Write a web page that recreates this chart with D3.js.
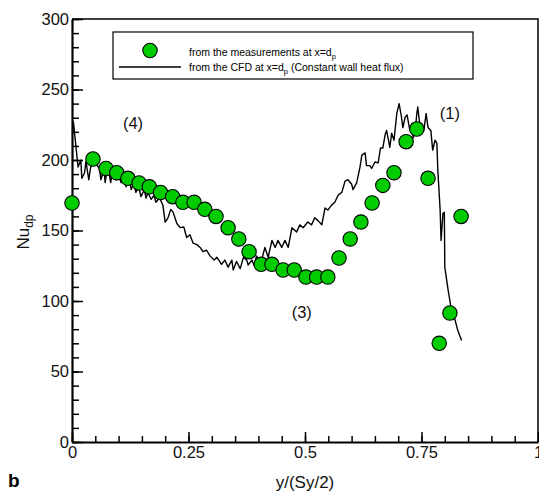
<!DOCTYPE html>
<html>
<head>
<meta charset="utf-8">
<script src="https://cdn.jsdelivr.net/npm/d3@7"></script>
<style>
  body { margin: 0; background: #fff; }
  text { font-family: "Liberation Sans", Arial, sans-serif; }
</style>
</head>
<body>
<div id="chart"></div>
<script>
// measurements at x = dp
var measX = [0, 0.045, 0.073, 0.096, 0.12, 0.144, 0.166, 0.19, 0.216, 0.238, 0.262, 0.285, 0.309, 0.335, 0.358, 0.38,
    0.406, 0.429, 0.453, 0.477, 0.502, 0.525, 0.549, 0.573, 0.597, 0.62, 0.644, 0.667, 0.691, 0.717, 0.74, 0.764,
    0.788, 0.811, 0.835];
var measNu = [169.5, 200.7, 194, 191, 187, 183.7, 181, 177, 174, 170, 170, 165, 160, 152, 144, 135,
    126, 126, 122, 122, 117, 117, 117, 130.5, 144, 156, 169.5, 182, 191, 213, 222, 187,
    70, 91.5, 160];

// CFD, constant wall heat flux
var cfdX = [0.001, 0.003, 0.013, 0.019, 0.021, 0.027, 0.030, 0.036, 0.040, 0.049, 0.054, 0.059, 0.062, 0.069, 0.071,
    0.077, 0.083, 0.088, 0.094, 0.099, 0.105, 0.112, 0.116, 0.122, 0.127, 0.133, 0.137, 0.143, 0.148, 0.155, 0.159,
    0.163, 0.170, 0.176, 0.180, 0.188, 0.195, 0.200, 0.206, 0.212, 0.217, 0.225, 0.232, 0.240, 0.246, 0.253, 0.260,
    0.268, 0.275, 0.281, 0.289, 0.296, 0.305, 0.311, 0.321, 0.328, 0.335, 0.343, 0.346, 0.353, 0.361, 0.368, 0.375,
    0.378, 0.386, 0.391, 0.396, 0.403, 0.408, 0.414, 0.421, 0.429, 0.436, 0.442, 0.450, 0.457, 0.464, 0.472, 0.482,
    0.489, 0.496, 0.506, 0.514, 0.521, 0.528, 0.536, 0.543, 0.549, 0.557, 0.564, 0.571, 0.579, 0.586, 0.592, 0.600,
    0.603, 0.611, 0.618, 0.622, 0.629, 0.632, 0.639, 0.643, 0.650, 0.657, 0.662, 0.667, 0.672, 0.675, 0.678, 0.682,
    0.686, 0.691, 0.697, 0.702, 0.707, 0.710, 0.715, 0.719, 0.725, 0.730, 0.732, 0.736, 0.740, 0.742, 0.747, 0.750,
    0.755, 0.760, 0.764, 0.770, 0.774, 0.779, 0.783, 0.785, 0.790, 0.792, 0.796, 0.799, 0.800, 0.807, 0.813, 0.822,
    0.828, 0.836];
var cfdNu = [217.7, 227, 195, 200, 187, 191, 199, 186, 195, 199, 196, 194, 186, 194, 184,
    196, 184, 194, 186, 191, 184, 188, 181, 189, 179, 184, 177, 181, 174, 179, 173,
    177, 172, 175, 170, 173, 168, 156, 159, 165, 163, 155, 152, 152.5, 145, 147, 141,
    140, 138, 135, 136, 132, 129, 131, 126, 129, 124, 129, 122, 128, 123, 131, 129,
    125.5, 129, 125, 132, 127, 130.5, 138, 131, 143, 138, 143, 138, 143, 138, 152, 149,
    154, 152, 156, 154, 159, 157, 154, 166, 164.5, 168, 170, 175, 177, 185, 186, 183,
    179, 184, 195, 203.5, 205, 196, 196, 194, 198.6, 198, 208.5, 208.5, 218, 221, 216, 209,
    219, 214, 233, 240, 230.5, 223, 230.5, 232, 221, 226, 215.6, 219, 233, 237.6, 223, 226,
    221, 233, 223, 221, 207, 214, 212, 193, 164.5, 143, 162, 163, 124, 108, 96, 86.5,
    79, 72];

var xTicks = [0, 0.25, 0.5, 0.75, 1];
var xTickLabels = ["0", "0.25", "0.5", "0.75", "1"];
var yTicks = [0, 50, 100, 150, 200, 250, 300];

var width = 539;
var height = 491;
var margin = { left: 72, right: 1, top: 19, bottom: 49 };
var plotW = width - margin.left - margin.right;
var plotH = height - margin.top - margin.bottom;

var xScale = d3.scaleLinear().domain([0, 1]).range([0, plotW]);
var yScale = d3.scaleLinear().domain([0, 300]).range([plotH, 0]);

var svg = d3.select("#chart").append("svg")
    .attr("width", width)
    .attr("height", height);

var chartGroup = svg.append("g")
    .attr("transform", "translate(" + margin.left + "," + margin.top + ")");

// top and right frame
chartGroup.append("path")
    .attr("d", "M0,0H" + plotW + "V" + plotH)
    .attr("fill", "none")
    .attr("stroke", "#000")
    .attr("stroke-width", 1.5);

// minor ticks
chartGroup.append("g")
    .attr("class", "minor y")
    .call(d3.axisLeft(yScale).tickValues(d3.range(0, 301, 10)).tickSize(-7).tickFormat(""))
    .call(function (g) { g.select(".domain").remove(); });
chartGroup.append("g")
    .attr("class", "minor x")
    .attr("transform", "translate(0," + plotH + ")")
    .call(d3.axisBottom(xScale).tickValues(d3.range(0, 1.001, 0.05)).tickSize(-6).tickFormat(""))
    .call(function (g) { g.select(".domain").remove(); });

// major axes
var yAxisG = chartGroup.append("g")
    .attr("class", "axis y")
    .call(d3.axisLeft(yScale).tickValues(yTicks).tickSizeInner(-11).tickSizeOuter(0).tickPadding(4));
var xAxisG = chartGroup.append("g")
    .attr("class", "axis x")
    .attr("transform", "translate(0," + plotH + ")")
    .call(d3.axisBottom(xScale).tickValues(xTicks).tickSizeInner(-10).tickSizeOuter(0).tickPadding(4)
        .tickFormat(function (d, i) { return xTickLabels[i]; }));

svg.selectAll(".axis .domain").attr("stroke-width", 2.2);
svg.selectAll(".axis .tick line, .minor .tick line").attr("stroke-width", 1.5);
svg.selectAll(".axis text")
    .style("font-size", "16.5px")
    .style("font-family", "Liberation Sans, Arial, sans-serif")
    .attr("fill", "#111");
yAxisG.selectAll("text").attr("x", -3);
xAxisG.selectAll("text").attr("y", 4);

// CFD line
var line = d3.line()
    .x(function (d, i) { return xScale(cfdX[i]); })
    .y(function (d) { return yScale(d); });

chartGroup.append("path")
    .attr("fill", "none")
    .attr("stroke", "#000")
    .attr("stroke-width", 1.4)
    .attr("stroke-linejoin", "round")
    .attr("d", line(cfdNu));

// measurement points
chartGroup.selectAll("circle.meas")
    .data(measNu)
    .enter().append("circle")
    .attr("class", "meas")
    .attr("cx", function (d, i) { return xScale(measX[i]); })
    .attr("cy", function (d) { return yScale(d); })
    .attr("r", 7.2)
    .attr("fill", "#00cc00")
    .attr("stroke", "#000")
    .attr("stroke-width", 1.1);

// region labels
var regionLabels = [
    { t: "(4)", x: 0.131, y: 222 },
    { t: "(1)", x: 0.811, y: 229 },
    { t: "(3)", x: 0.493, y: 88 }
];
chartGroup.selectAll("text.region")
    .data(regionLabels)
    .enter().append("text")
    .attr("class", "region")
    .attr("x", function (d) { return xScale(d.x); })
    .attr("y", function (d) { return yScale(d.y); })
    .attr("text-anchor", "middle")
    .style("font-size", "16.5px")
    .attr("fill", "#111")
    .text(function (d) { return d.t; });

// legend
var legend = svg.append("g").attr("transform", "translate(113,32)");
legend.append("rect")
    .attr("width", 360).attr("height", 47)
    .attr("fill", "#fff").attr("stroke", "#000").attr("stroke-width", 1.2);
legend.append("circle")
    .attr("cx", 37).attr("cy", 18.5).attr("r", 7.2)
    .attr("fill", "#00cc00").attr("stroke", "#000").attr("stroke-width", 1.1);
legend.append("line")
    .attr("x1", 6).attr("x2", 68).attr("y1", 35).attr("y2", 35)
    .attr("stroke", "#000").attr("stroke-width", 1.4);
var t1 = legend.append("text").attr("x", 76).attr("y", 24).style("font-size", "10.5px");
t1.append("tspan").text("from the measurements at x=d");
t1.append("tspan").attr("dy", 3).style("font-size", "7.5px").text("p");
var t2 = legend.append("text").attr("x", 76).attr("y", 39).style("font-size", "10.5px");
t2.append("tspan").text("from the CFD at x=d");
t2.append("tspan").attr("dy", 3).style("font-size", "7.5px").text("p");
t2.append("tspan").attr("dy", -3).text(" (Constant wall heat flux)");

// axis titles
svg.append("text")
    .attr("x", margin.left + xScale(0.5))
    .attr("y", 488)
    .attr("text-anchor", "middle")
    .style("font-size", "17px")
    .attr("fill", "#111")
    .text("y/(Sy/2)");

var yTitle = svg.append("text")
    .attr("transform", "translate(29,232) rotate(-90)")
    .attr("text-anchor", "middle")
    .style("font-size", "17px")
    .attr("fill", "#111");
yTitle.append("tspan").text("Nu");
yTitle.append("tspan").attr("dy", 4).style("font-size", "12px").text("dp");

svg.append("text")
    .attr("x", 8)
    .attr("y", 487)
    .style("font-size", "19px")
    .style("font-weight", "bold")
    .text("b");
</script>
</body>
</html>
